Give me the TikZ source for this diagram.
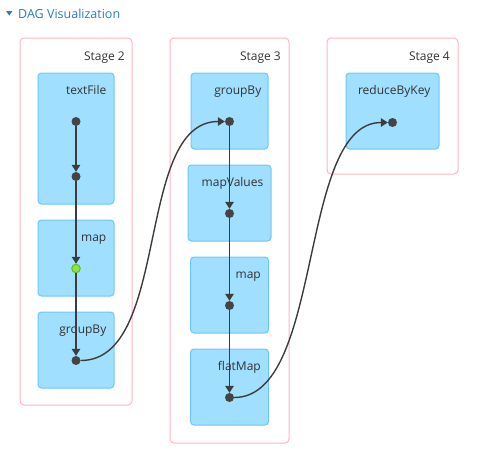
\documentclass[tikz,border=0pt]{standalone}
\usepackage{fontspec}
\setmainfont{Open Sans}
\usetikzlibrary{positioning,arrows.meta}
\definecolor{boxfill}{HTML}{A0DFFF}
\definecolor{boxline}{HTML}{6CC8F5}
\definecolor{stageline}{HTML}{FFB3C1}
\definecolor{dotgray}{HTML}{444444}
\definecolor{edgegray}{HTML}{3C3C3C}
\definecolor{cachegreen}{HTML}{8CE63A}
\definecolor{cacheline}{HTML}{5DBB2A}
\definecolor{titleblue}{HTML}{2D7DBA}
\definecolor{labelgray}{HTML}{333333}

\begin{document}
\begin{tikzpicture}[x=1pt,y=-1pt]
\tikzstyle{stage}=[draw=stageline,line width=1pt,rounded corners=4pt]
\tikzstyle{op}=[draw=boxline,fill=boxfill,line width=1pt,rounded corners=3.5pt,minimum width=77pt,minimum height=76pt,inner sep=0pt]
\tikzstyle{dot}=[circle,fill=dotgray,inner sep=0pt,minimum size=9pt]
\tikzstyle{cached}=[circle,fill=cachegreen,draw=cacheline,line width=1pt,inner sep=0pt,minimum size=8.5pt]
\tikzstyle{lbl}=[anchor=base east,text=labelgray,font=\fontsize{12}{14}\selectfont,inner sep=0pt]
\tikzstyle{flow}=[draw=edgegray,line width=1.4pt,-{Triangle[length=7pt,width=8.5pt]}]

\useasboundingbox (0,0) rectangle (484,463);

% title
\fill[titleblue] (6,11) -- (12.5,11) -- (9.25,15.5) -- cycle;
\node[anchor=base west,inner sep=0pt,text=titleblue,font=\fontsize{12.5}{15}\selectfont] (title) at (18,18) {DAG Visualization};

% stages
\draw[stage] (20,38) rectangle (132,405);
\draw[stage] (170,38) rectangle (289,443);
\draw[stage] (327,38) rectangle (458,174);
\node[lbl] (s2) at (125,60) {Stage 2};
\node[lbl] (s3) at (281,60) {Stage 3};
\node[lbl] (s4) at (450,60) {Stage 4};

% stage 2
\node[op,minimum width=76pt,minimum height=131pt] (tf) at (76,138.5) {};
\node[op,minimum width=76pt,below=15pt of tf] (mp2) {};
\node[op,minimum width=76pt,below=15pt of mp2] (gb2) {};
\node[lbl] at ([xshift=-8pt,yshift=-22pt]tf.north east) {textFile};
\node[lbl] at ([xshift=-8pt,yshift=-22pt]mp2.north east) {map};
\node[lbl] at ([xshift=-8pt,yshift=-22pt]gb2.north east) {groupBy};
\node[dot] (tf1) at ([yshift=-49pt]tf.north) {};
\node[dot] (tf2) at ([yshift=-104pt]tf.north) {};
\node[cached] (mp2d) at ([yshift=-49pt]mp2.north) {};
\node[dot] (gb2d) at ([yshift=-49pt]gb2.north) {};

% stage 3
\node[op] (gb3) at (229.5,111) {};
\node[op,minimum width=83pt,below=15pt of gb3] (mv3) {};
\node[op,minimum width=78pt,below=15pt of mv3] (mp3) {};
\node[op,minimum width=78pt,below=15pt of mp3] (fm3) {};
\node[lbl] at ([xshift=-7pt,yshift=-22pt]gb3.north east) {groupBy};
\node[lbl] at ([xshift=-8pt,yshift=-22pt]mv3.north east) {mapValues};
\node[lbl] at ([xshift=-8pt,yshift=-22pt]mp3.north east) {map};
\node[lbl] at ([xshift=-8pt,yshift=-22pt]fm3.north east) {flatMap};
\node[dot] (gb3d) at ([yshift=-49pt]gb3.north) {};
\node[dot] (mv3d) at ([yshift=-49pt]mv3.north) {};
\node[dot] (mp3d) at ([yshift=-49pt]mp3.north) {};
\node[dot] (fm3d) at ([yshift=-49pt]fm3.north) {};

% stage 4
\node[op,minimum width=93pt] (rk4) at (392.5,111) {};
\node[lbl] at ([xshift=-9pt,yshift=-22pt]rk4.north east) {reduceByKey};
\node[dot] (rk4d) at ([yshift=-50pt]rk4.north) {};

% edges
\draw[flow] (tf1) -- (tf2);
\draw[flow] (tf2) -- (mp2d);
\draw[flow] (mp2d) -- (gb2d);
\draw[flow] (gb3d) -- (mv3d);
\draw[flow] (mv3d) -- (mp3d);
\draw[flow] (mp3d) -- (fm3d);
\draw[flow] (gb2d) .. controls +(95,0) and +(-95,0) .. (gb3d);
\draw[flow] (fm3d) .. controls +(95,0) and +(-95,0) .. (rk4d);
\end{tikzpicture}
\end{document}
